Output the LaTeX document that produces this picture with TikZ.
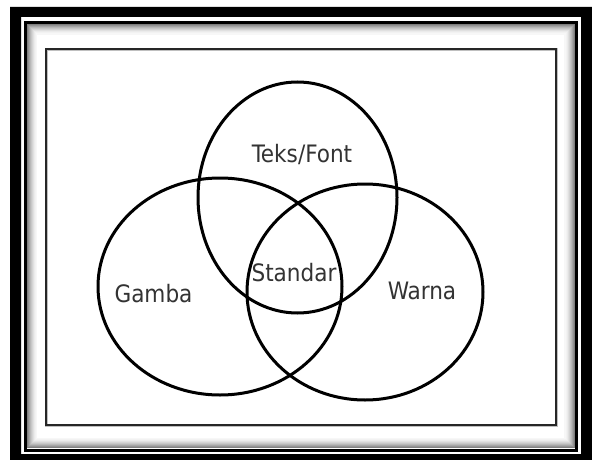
\documentclass[tikz,border=0pt]{standalone}
\usepackage{fontspec}
\setmainfont{DejaVu Sans Condensed}
\usetikzlibrary{shapes.geometric}
\begin{document}
\begin{tikzpicture}[x=1pt,y=-1pt,
  venn/.style={ellipse, draw=black, line width=3pt, inner sep=0pt},
  lbl/.style={text=black!80, font=\fontsize{24}{27}\selectfont, inner sep=0pt}]
\useasboundingbox (0,0) rectangle (592,460);
% outer frame
\fill[black, even odd rule] (10,7) rectangle (592,460) (21,17) rectangle (581,454);
\foreach \o/\c in {2.5/50,3.5/42,4.5/35,5.5/28,6.5/22,7.5/17,8.5/12,9.5/8,10.5/5,11.5/3}{
  \draw[line width=1.1pt, black!\c] (25+\o,22.5+\o) rectangle (576.5-\o,450-\o);
}
\draw[line width=3pt, black] (25,22.5) rectangle (576.5,450);
% inner rectangle
\draw[line width=3pt, black!25] (46.5,49.5) rectangle (556.5,425.5);
\draw[line width=1.8pt, black!85] (46,49) rectangle (556,425);
% ellipses
\node[venn, minimum width=199pt, minimum height=231pt] (teks) at (297.5,197.5) {};
\node[venn, minimum width=244pt, minimum height=217pt] (gamba) at (220,286.5) {};
\node[venn, minimum width=236pt, minimum height=216pt] (warna) at (365,292) {};
% labels
\node[lbl] (tTeks) at (302,154) {Teks/Font};
\node[lbl] (tGamba) at (153.5,294) {Gamba};
\node[lbl] (tWarna) at (422,291) {Warna};
\node[lbl] (tStandar) at (294,273) {Standar};
\end{tikzpicture}
\end{document}
